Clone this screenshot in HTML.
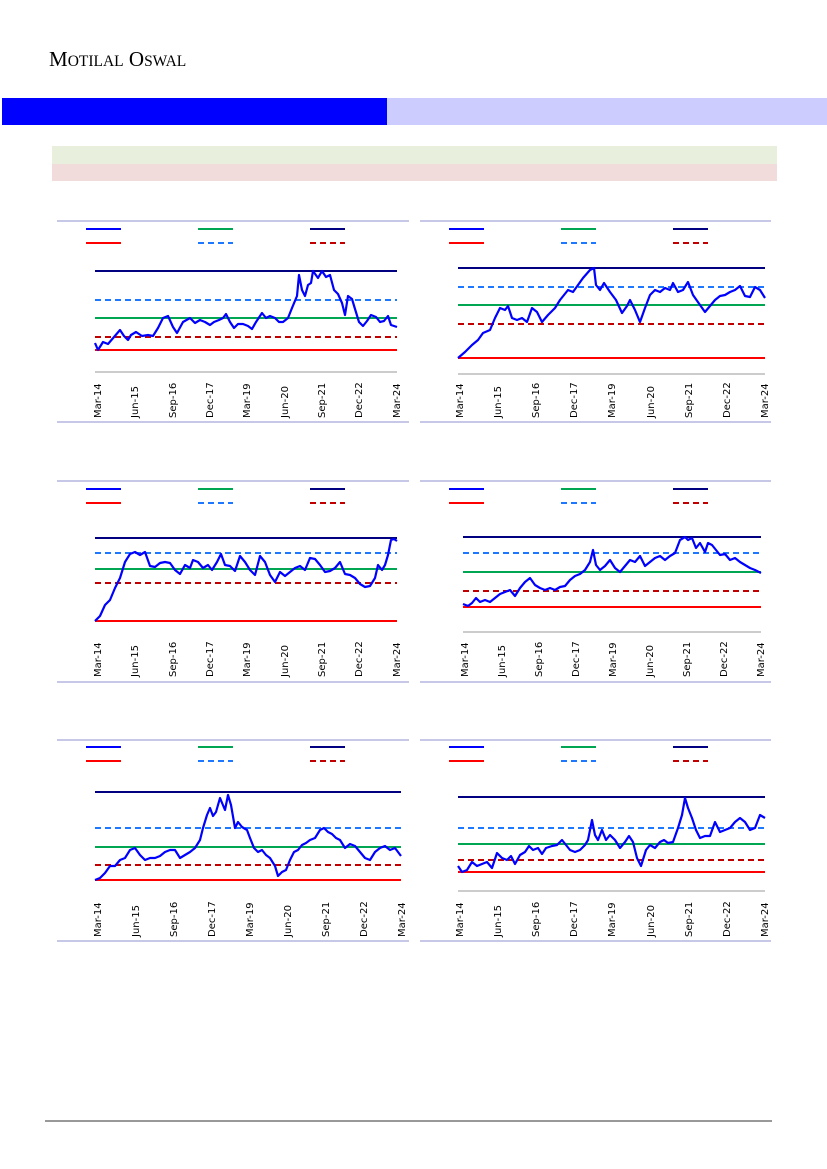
<!DOCTYPE html>
<html><head><meta charset="utf-8"><style>
html,body{margin:0;padding:0;background:#fff;}
svg{display:block}
.ax text{font-family:"DejaVu Sans","Liberation Sans",sans-serif;font-size:10px;fill:#000}
.s{fill:none;stroke:#0000ff;stroke-width:2.2;stroke-linejoin:round}
</style></head><body>
<svg width="827" height="1169" viewBox="0 0 827 1169" xmlns="http://www.w3.org/2000/svg">
<text x="49" y="66" font-family="Liberation Serif,serif" font-size="21" fill="#000">M<tspan font-size="15.5">OTILAL</tspan> O<tspan font-size="15.5">SWAL</tspan></text>
<rect x="2" y="98" width="385" height="27" fill="#0000ff"/>
<rect x="387" y="98" width="440" height="27" fill="#ccccff"/>
<rect x="52" y="146" width="725" height="18" fill="#e8efdc"/>
<rect x="52" y="164" width="725" height="17" fill="#f2dcdb"/>
<line x1="45" y1="1121" x2="772" y2="1121" stroke="#333" stroke-width="1"/>

<g stroke="#8f8fd0" stroke-width="1">
<line x1="57" y1="221" x2="409" y2="221"/><line x1="57" y1="422" x2="409" y2="422"/>
<line x1="420" y1="221" x2="771" y2="221"/><line x1="420" y1="422" x2="771" y2="422"/>
<line x1="57" y1="481" x2="409" y2="481"/><line x1="57" y1="682" x2="409" y2="682"/>
<line x1="420" y1="481" x2="771" y2="481"/><line x1="420" y1="682" x2="771" y2="682"/>
<line x1="57" y1="740" x2="409" y2="740"/><line x1="57" y1="941" x2="409" y2="941"/>
<line x1="420" y1="740" x2="771" y2="740"/><line x1="420" y1="941" x2="771" y2="941"/>
</g>

<g stroke-width="2">
<g id="lgL">
<line x1="86" y1="229" x2="121" y2="229" stroke="#0000ff"/>
<line x1="198" y1="229" x2="233" y2="229" stroke="#00a651"/>
<line x1="310" y1="229" x2="345" y2="229" stroke="#000080"/>
<line x1="86" y1="243" x2="121" y2="243" stroke="#ff0000"/>
<line x1="198" y1="243" x2="233" y2="243" stroke="#1e78ff" stroke-dasharray="6,4"/>
<line x1="310" y1="243" x2="345" y2="243" stroke="#c00000" stroke-dasharray="6,4"/>
</g>
<use href="#lgL" x="363"/>
<use href="#lgL" y="260"/>
<use href="#lgL" x="363" y="260"/>
<use href="#lgL" y="518"/>
<use href="#lgL" x="363" y="518"/>
</g>

<g>
<line x1="95" y1="271" x2="397" y2="271" stroke="#000080" stroke-width="2"/>
<line x1="95" y1="300" x2="397" y2="300" stroke="#1e78ff" stroke-width="2" stroke-dasharray="6,4"/>
<line x1="95" y1="318" x2="397" y2="318" stroke="#00a651" stroke-width="2"/>
<line x1="95" y1="337" x2="397" y2="337" stroke="#c00000" stroke-width="2" stroke-dasharray="6,4"/>
<line x1="95" y1="350" x2="397" y2="350" stroke="#ff0000" stroke-width="2"/>
<line x1="95" y1="372" x2="397" y2="372" stroke="#999" stroke-width="1"/>
<polyline class="s" points="95,343 98,350 103,342 108,344 114,337 120,330 124,336 128,340 131,335 136,332 142,336 148,335 153,336 158,328 163,318 168,316 173,327 177,333 183,322 190,318 195,323 200,320 205,322 210,325 214,322 219,320 223,318 226,314 230,322 234,328 238,324 243,324 248,326 252,329 256,322 262,313 266,318 270,316 275,318 279,322 283,322 288,318 292,308 297,296 299,275 302,290 305,296 308,285 311,283 313,271 318,278 322,271 326,277 330,275 334,290 338,294 342,303 345,315 348,296 352,299 355,309 359,322 363,326 367,321 371,315 376,317 380,322 384,321 388,316 391,325 397,327"/>
<g class="ax" id="ax1">
<text transform="translate(101,418) rotate(-90)">Mar-14</text>
<text transform="translate(138,418) rotate(-90)">Jun-15</text>
<text transform="translate(176,418) rotate(-90)">Sep-16</text>
<text transform="translate(213,418) rotate(-90)">Dec-17</text>
<text transform="translate(250,418) rotate(-90)">Mar-19</text>
<text transform="translate(288,418) rotate(-90)">Jun-20</text>
<text transform="translate(325,418) rotate(-90)">Sep-21</text>
<text transform="translate(362,418) rotate(-90)">Dec-22</text>
<text transform="translate(400,418) rotate(-90)">Mar-24</text>
</g>
</g>

<g>
<line x1="458" y1="268" x2="765" y2="268" stroke="#000080" stroke-width="2"/>
<line x1="458" y1="287" x2="765" y2="287" stroke="#1e78ff" stroke-width="2" stroke-dasharray="6,4"/>
<line x1="458" y1="305" x2="765" y2="305" stroke="#00a651" stroke-width="2"/>
<line x1="458" y1="324" x2="765" y2="324" stroke="#c00000" stroke-width="2" stroke-dasharray="6,4"/>
<line x1="458" y1="358" x2="765" y2="358" stroke="#ff0000" stroke-width="2"/>
<line x1="458" y1="374" x2="765" y2="374" stroke="#999" stroke-width="1"/>
<polyline class="s" points="458,358 465,352 472,345 478,340 483,333 490,330 495,318 500,308 505,310 508,306 512,318 517,320 522,318 527,322 532,308 537,312 542,322 548,315 555,308 560,300 568,290 573,292 578,285 583,278 590,270 594,268 596,285 600,290 604,283 610,292 616,300 622,313 627,306 630,300 635,310 640,322 645,308 650,295 655,290 660,292 665,288 670,290 673,283 678,292 683,290 688,282 693,295 700,305 705,312 710,306 715,300 720,296 725,295 730,292 735,290 740,286 745,296 750,297 755,287 760,290 765,298"/>
<g class="ax">
<text transform="translate(463,418) rotate(-90)">Mar-14</text>
<text transform="translate(501,418) rotate(-90)">Jun-15</text>
<text transform="translate(539,418) rotate(-90)">Sep-16</text>
<text transform="translate(577,418) rotate(-90)">Dec-17</text>
<text transform="translate(615,418) rotate(-90)">Mar-19</text>
<text transform="translate(654,418) rotate(-90)">Jun-20</text>
<text transform="translate(692,418) rotate(-90)">Sep-21</text>
<text transform="translate(730,418) rotate(-90)">Dec-22</text>
<text transform="translate(768,418) rotate(-90)">Mar-24</text>
</g>
</g>

<g>
<line x1="95" y1="538" x2="397" y2="538" stroke="#000080" stroke-width="2"/>
<line x1="95" y1="553" x2="397" y2="553" stroke="#1e78ff" stroke-width="2" stroke-dasharray="6,4"/>
<line x1="95" y1="569" x2="397" y2="569" stroke="#00a651" stroke-width="2"/>
<line x1="95" y1="583" x2="397" y2="583" stroke="#c00000" stroke-width="2" stroke-dasharray="6,4"/>
<line x1="95" y1="621" x2="397" y2="621" stroke="#ff0000" stroke-width="2"/>
<polyline class="s" points="95,621 100,616 105,605 110,600 115,588 120,578 125,562 130,554 135,552 140,555 145,552 150,566 155,567 160,563 165,562 170,563 175,570 180,574 185,565 190,568 193,560 198,562 203,568 208,565 212,570 217,562 221,554 225,565 230,566 235,571 240,556 245,562 250,570 255,575 260,556 265,562 270,575 275,582 280,572 285,576 290,572 295,568 300,566 305,570 310,558 315,559 320,565 325,572 330,571 335,568 340,562 345,574 350,575 355,578 360,584 365,587 370,586 375,578 378,565 382,570 385,565 388,555 391,540 394,539 397,541"/>
<use href="#ax1" y="259"/>
</g>

<g>
<line x1="463" y1="537" x2="761" y2="537" stroke="#000080" stroke-width="2"/>
<line x1="463" y1="553" x2="761" y2="553" stroke="#1e78ff" stroke-width="2" stroke-dasharray="6,4"/>
<line x1="463" y1="572" x2="761" y2="572" stroke="#00a651" stroke-width="2"/>
<line x1="463" y1="591" x2="761" y2="591" stroke="#c00000" stroke-width="2" stroke-dasharray="6,4"/>
<line x1="463" y1="607" x2="761" y2="607" stroke="#ff0000" stroke-width="2"/>
<line x1="463" y1="632" x2="761" y2="632" stroke="#999" stroke-width="1"/>
<polyline class="s" points="463,604 468,606 472,603 476,598 480,602 485,600 490,602 495,598 500,594 505,592 510,590 515,596 520,588 525,582 530,578 535,585 540,588 545,590 550,588 555,590 560,587 565,586 570,580 575,576 580,574 585,570 590,562 593,550 596,565 600,570 605,566 610,560 615,568 620,572 625,566 630,560 635,562 640,556 645,566 650,562 655,558 660,556 665,560 670,556 675,553 680,540 685,537 688,540 692,538 696,548 700,543 705,552 708,543 712,545 716,550 720,555 725,554 730,560 735,558 740,562 745,565 750,568 755,570 761,573"/>
<g class="ax">
<text transform="translate(468,677) rotate(-90)">Mar-14</text>
<text transform="translate(505,677) rotate(-90)">Jun-15</text>
<text transform="translate(542,677) rotate(-90)">Sep-16</text>
<text transform="translate(579,677) rotate(-90)">Dec-17</text>
<text transform="translate(616,677) rotate(-90)">Mar-19</text>
<text transform="translate(653,677) rotate(-90)">Jun-20</text>
<text transform="translate(690,677) rotate(-90)">Sep-21</text>
<text transform="translate(727,677) rotate(-90)">Dec-22</text>
<text transform="translate(764,677) rotate(-90)">Mar-24</text>
</g>
</g>

<g>
<line x1="95" y1="792" x2="401" y2="792" stroke="#000080" stroke-width="2"/>
<line x1="95" y1="828" x2="401" y2="828" stroke="#1e78ff" stroke-width="2" stroke-dasharray="6,4"/>
<line x1="95" y1="847" x2="401" y2="847" stroke="#00a651" stroke-width="2"/>
<line x1="95" y1="865" x2="401" y2="865" stroke="#c00000" stroke-width="2" stroke-dasharray="6,4"/>
<line x1="95" y1="880" x2="401" y2="880" stroke="#ff0000" stroke-width="2"/>
<polyline class="s" points="95,880 100,878 105,873 110,866 115,866 120,860 125,858 130,850 135,848 140,855 145,860 150,858 155,858 160,856 165,852 170,850 175,850 180,858 185,855 190,852 195,848 200,840 203,828 207,815 210,808 213,816 216,812 220,798 225,810 228,795 231,805 235,828 238,822 242,827 247,830 250,838 254,848 258,852 262,850 266,855 270,858 275,866 278,876 282,872 286,870 290,860 294,852 298,850 302,845 306,843 310,840 315,838 320,830 324,828 328,832 332,834 336,838 340,840 345,848 350,844 355,846 360,852 365,858 370,860 375,852 380,848 385,846 390,850 395,848 401,856"/>
<g class="ax">
<text transform="translate(101,937) rotate(-90)">Mar-14</text>
<text transform="translate(139,937) rotate(-90)">Jun-15</text>
<text transform="translate(177,937) rotate(-90)">Sep-16</text>
<text transform="translate(215,937) rotate(-90)">Dec-17</text>
<text transform="translate(253,937) rotate(-90)">Mar-19</text>
<text transform="translate(291,937) rotate(-90)">Jun-20</text>
<text transform="translate(329,937) rotate(-90)">Sep-21</text>
<text transform="translate(367,937) rotate(-90)">Dec-22</text>
<text transform="translate(405,937) rotate(-90)">Mar-24</text>
</g>
</g>

<g>
<line x1="458" y1="797" x2="765" y2="797" stroke="#000080" stroke-width="2"/>
<line x1="458" y1="828" x2="765" y2="828" stroke="#1e78ff" stroke-width="2" stroke-dasharray="6,4"/>
<line x1="458" y1="844" x2="765" y2="844" stroke="#00a651" stroke-width="2"/>
<line x1="458" y1="860" x2="765" y2="860" stroke="#c00000" stroke-width="2" stroke-dasharray="6,4"/>
<line x1="458" y1="872" x2="765" y2="872" stroke="#ff0000" stroke-width="2"/>
<line x1="458" y1="891" x2="765" y2="891" stroke="#999" stroke-width="1"/>
<polyline class="s" points="458,866 462,872 467,870 472,862 477,866 482,864 487,862 492,868 497,853 502,858 507,860 511,856 515,864 520,855 525,852 529,846 533,850 538,848 542,854 546,848 552,846 557,845 562,840 566,845 570,850 575,852 580,850 585,845 588,840 592,820 595,835 598,840 602,830 606,840 610,835 615,840 620,848 625,842 629,836 633,842 637,858 641,866 646,850 650,845 655,848 660,842 664,840 668,843 673,842 678,828 682,815 685,798 688,808 692,818 696,830 700,838 705,836 710,836 715,822 720,832 725,830 730,828 735,822 740,818 745,822 750,830 755,828 760,815 765,818"/>
<g class="ax">
<text transform="translate(463,937) rotate(-90)">Mar-14</text>
<text transform="translate(501,937) rotate(-90)">Jun-15</text>
<text transform="translate(539,937) rotate(-90)">Sep-16</text>
<text transform="translate(577,937) rotate(-90)">Dec-17</text>
<text transform="translate(615,937) rotate(-90)">Mar-19</text>
<text transform="translate(654,937) rotate(-90)">Jun-20</text>
<text transform="translate(692,937) rotate(-90)">Sep-21</text>
<text transform="translate(730,937) rotate(-90)">Dec-22</text>
<text transform="translate(768,937) rotate(-90)">Mar-24</text>
</g>
</g>
</svg>
</body></html>
